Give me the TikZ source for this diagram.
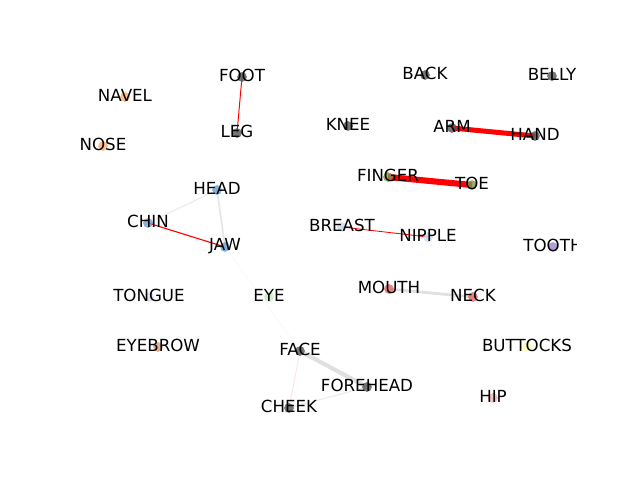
\documentclass[tikz,border=0pt]{standalone}
\usepackage{fontspec}
\setmainfont{DejaVu Sans}
\definecolor{dotgray}{HTML}{555555}
\definecolor{dotorange}{HTML}{FDAE6B}
\definecolor{dotblue}{HTML}{6A9FCF}
\definecolor{dotlblue}{HTML}{C6DBEF}
\definecolor{dotgreen}{HTML}{7A9A4A}
\definecolor{dotred}{HTML}{E06666}
\definecolor{dotpurple}{HTML}{9E86C8}
\definecolor{dotlpurple}{HTML}{DADAEB}
\definecolor{dotlgreen}{HTML}{C7E9C0}
\definecolor{dotbrown}{HTML}{D6A07C}
\definecolor{dotyellow}{HTML}{FFFFB3}
\definecolor{dotpink}{HTML}{F4B4B4}
\tikzset{
  dot/.style={circle,fill=#1,fill opacity=0.8,inner sep=0pt,minimum size=7pt},
  word/.style={font=\fontsize{12}{14}\selectfont,inner sep=0pt,yshift=0.8pt},
  strong/.style={draw=red,line width=#1},
  faint/.style={draw=black!#1,line width=0.8pt},
}
\begin{document}
\begin{tikzpicture}[x=0.72pt,y=-0.72pt]
        \useasboundingbox (0,0) rectangle (640,480);
        \clip (80,58) rectangle (576,427);
        % positions of the words
        \coordinate (foot) at (242,77);
        \coordinate (leg) at (237,133);
        \coordinate (navel) at (125,97);
        \coordinate (nose) at (103,146);
        \coordinate (back) at (425,75);
        \coordinate (belly) at (552,76);
        \coordinate (knee) at (348,126);
        \coordinate (arm) at (452,128);
        \coordinate (hand) at (535,136);
        \coordinate (finger) at (388,177);
        \coordinate (toe) at (472,185);
        \coordinate (head) at (217,190);
        \coordinate (chin) at (148,223);
        \coordinate (jaw) at (225,247);
        \coordinate (breast) at (342,227);
        \coordinate (nipple) at (428,237);
        \coordinate (tooth) at (553,247);
        \coordinate (mouth) at (389,289);
        \coordinate (neck) at (473,297);
        \coordinate (tongue) at (149,297);
        \coordinate (eye) at (269,297);
        \coordinate (eyebrow) at (158,347);
        \coordinate (face) at (300,351);
        \coordinate (forehead) at (367,387);
        \coordinate (cheek) at (289,408);
        \coordinate (buttocks) at (527,347);
        \coordinate (hip) at (493,398);
        % edges
        \draw[strong=0.7pt] (foot) -- (leg);
        \draw[strong=3.6pt] (arm) -- (hand);
        \draw[strong=4.4pt] (finger) -- (toe);
        \draw[strong=0.8pt] (chin) -- (jaw);
        \draw[strong=0.6pt] (breast) -- (nipple);
        \draw[faint=8] (head) -- (chin);
        \draw[faint=10,line width=1.2pt] (head) -- (jaw);
        \draw[faint=3,line width=0.5pt] (jaw) -- (face);
        \draw[faint=12,line width=2pt] (mouth) -- (neck);
        \draw[faint=12,line width=3pt] (face) -- (forehead);
        \draw[draw=red!12,line width=0.6pt] (face) -- (cheek);
        \draw[faint=8] (cheek) -- (forehead);
        % dots
        \node[dot=dotgray] (foot-d) at (foot) {};
        \node[dot=dotgray] (leg-d) at (leg) {};
        \node[dot=dotorange] (navel-d) at (navel) {};
        \node[dot=dotorange] (nose-d) at (nose) {};
        \node[dot=dotgray] (back-d) at (back) {};
        \node[dot=dotgray] (belly-d) at (belly) {};
        \node[dot=dotgray] (knee-d) at (knee) {};
        \node[dot=dotgray] (arm-d) at (arm) {};
        \node[dot=dotgray] (hand-d) at (hand) {};
        \node[dot=dotgreen] (finger-d) at (finger) {};
        \node[dot=dotgreen] (toe-d) at (toe) {};
        \node[dot=dotblue] (head-d) at (head) {};
        \node[dot=dotblue] (chin-d) at (chin) {};
        \node[dot=dotblue] (jaw-d) at (jaw) {};
        \node[dot=dotlblue] (breast-d) at (breast) {};
        \node[dot=dotlblue] (nipple-d) at (nipple) {};
        \node[dot=dotpurple] (tooth-d) at (tooth) {};
        \node[dot=dotred] (mouth-d) at (mouth) {};
        \node[dot=dotred] (neck-d) at (neck) {};
        \node[dot=dotlpurple] (tongue-d) at (tongue) {};
        \node[dot=dotlgreen] (eye-d) at (eye) {};
        \node[dot=dotbrown] (eyebrow-d) at (eyebrow) {};
        \node[dot=dotgray] (face-d) at (face) {};
        \node[dot=dotgray] (forehead-d) at (forehead) {};
        \node[dot=dotgray] (cheek-d) at (cheek) {};
        \node[dot=dotyellow] (buttocks-d) at (buttocks) {};
        \node[dot=dotpink] (hip-d) at (hip) {};
        % words
        \node[word] (foot-w) at (foot) {FOOT};
        \node[word] (leg-w) at (leg) {LEG};
        \node[word] (navel-w) at (navel) {NAVEL};
        \node[word] (nose-w) at (nose) {NOSE};
        \node[word] (back-w) at (back) {BACK};
        \node[word] (belly-w) at (belly) {BELLY};
        \node[word] (knee-w) at (knee) {KNEE};
        \node[word] (arm-w) at (arm) {ARM};
        \node[word] (hand-w) at (hand) {HAND};
        \node[word] (finger-w) at (finger) {FINGER};
        \node[word] (toe-w) at (toe) {TOE};
        \node[word] (head-w) at (head) {HEAD};
        \node[word] (chin-w) at (chin) {CHIN};
        \node[word] (jaw-w) at (jaw) {JAW};
        \node[word] (breast-w) at (breast) {BREAST};
        \node[word] (nipple-w) at (nipple) {NIPPLE};
        \node[word] (tooth-w) at (tooth) {TOOTH};
        \node[word] (mouth-w) at (mouth) {MOUTH};
        \node[word] (neck-w) at (neck) {NECK};
        \node[word] (tongue-w) at (tongue) {TONGUE};
        \node[word] (eye-w) at (eye) {EYE};
        \node[word] (eyebrow-w) at (eyebrow) {EYEBROW};
        \node[word] (face-w) at (face) {FACE};
        \node[word] (forehead-w) at (forehead) {FOREHEAD};
        \node[word] (cheek-w) at (cheek) {CHEEK};
        \node[word] (buttocks-w) at (buttocks) {BUTTOCKS};
        \node[word] (hip-w) at (hip) {HIP};
    \end{tikzpicture}
\end{document}
